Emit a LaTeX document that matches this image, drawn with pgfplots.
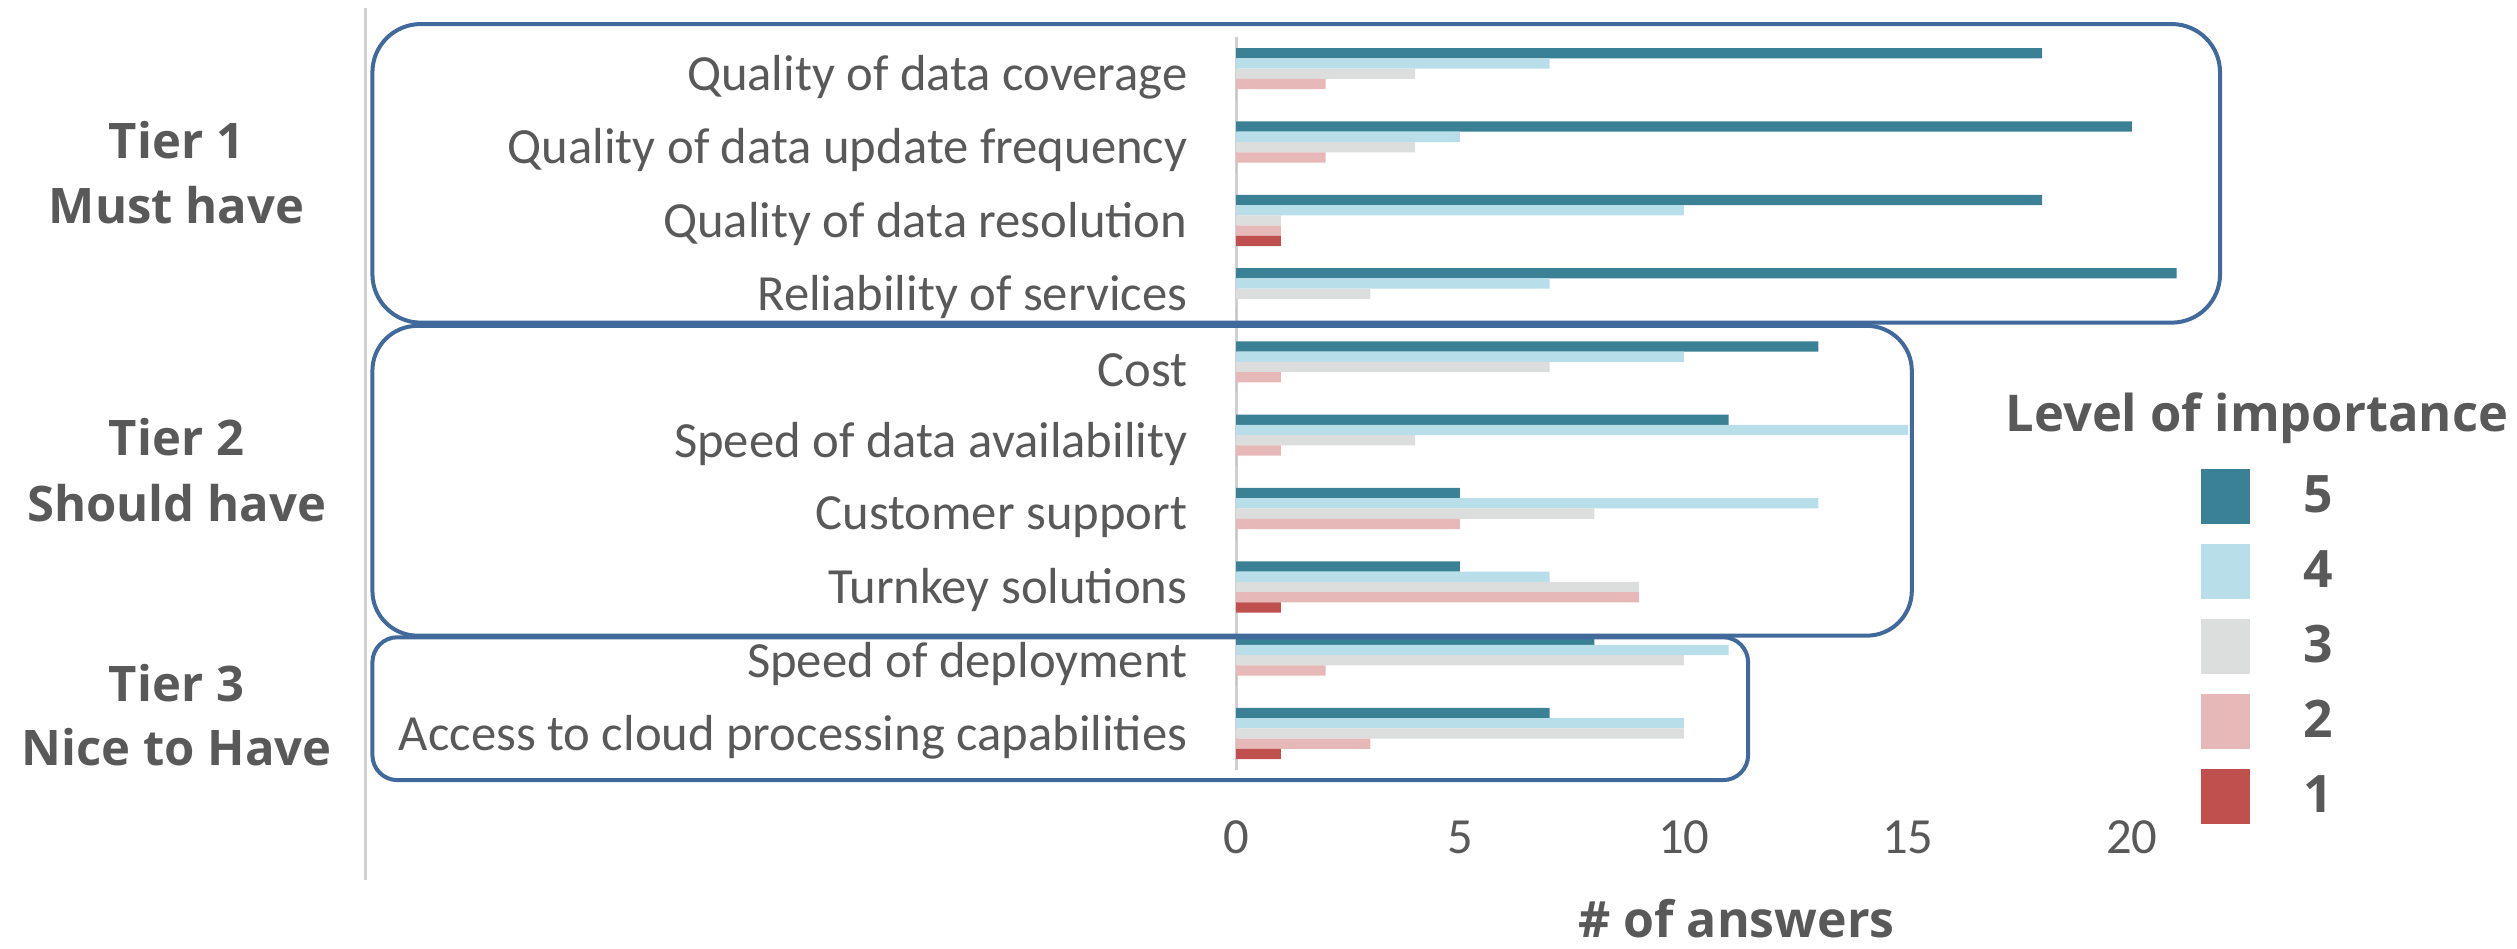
\documentclass[border=0pt]{standalone}
\usepackage{pgfplots}
\pgfplotsset{compat=1.18}
\usepackage{pgfplotstable}
\usepackage{fontspec}
\setmainfont{Carlito}
\newfontfamily\osans{Open Sans}
\definecolor{txt}{HTML}{595959}
\definecolor{c5}{HTML}{3A8195}
\definecolor{c4}{HTML}{B8DFE9}
\definecolor{c3}{HTML}{DCDDDD}
\definecolor{c2}{HTML}{E6B8B8}
\definecolor{c1}{HTML}{C0504D}
\definecolor{boxc}{HTML}{41699B}
\definecolor{gridc}{HTML}{D0D0D0}
\pgfplotsset{sqlegend/.style={legend image code/.code={\fill[##1] (0pt,-8.2pt) rectangle (14.7pt,8.2pt);}}}

\pgfplotstableread{
y v5 v4 v3 v2 v1
9 18 7 4 2 0
8 20 5 4 2 0
7 18 10 1 1 1
6 21 7 3 0 0
5 13 10 7 1 0
4 11 15 4 1 0
3 5 13 8 5 0
2 5 7 9 9 1
1 8 11 10 2 0
0 7 10 10 3 1
}\data

\begin{document}
\begin{tikzpicture}[x=0.48157pt,y=0.48157pt]
\begin{axis}[
 at={(370.81pt,53.55pt)}, anchor=south west,
 scale only axis, width=295.6pt, height=219.9pt,
 xmin=0, xmax=22, ymin=-0.5, ymax=9.5,
 axis x line*=bottom, axis y line*=left,
 x axis line style={draw=none},
 y axis line style={draw=gridc, line width=0.9pt},
 tick style={draw=none},
 xtick={0,5,10,15,20},
 ytick={0,...,9},
 yticklabels={Access to cloud processing capabilities, Speed of deployment, Turnkey solutions, Customer support, Speed of data availability, Cost, Reliability of services, Quality of data resolution, Quality of data update frequency, Quality of data coverage},
 tick label style={font=\fontsize{15.2}{16}\selectfont, text=txt},
 /pgf/number format/assume math mode=true,
 xticklabel style={anchor=north, inner sep=0pt, yshift=-15pt},
 yticklabel style={anchor=east, inner sep=0pt, xshift=-14.4pt, yshift=-1pt},
 xlabel={\# of answers},
 xlabel style={at={(axis description cs:0.508,-0.228)}, anchor=base, font=\osans\bfseries\fontsize{15}{18}\selectfont, text=txt},
 legend style={at={(axis description cs:0.979,0.4112)}, anchor=north west, draw=none, fill=none, inner sep=0pt,
   font=\osans\bfseries\fontsize{15.5}{18}\selectfont, text=txt,
   nodes={inner sep=0pt}, row sep=6.1pt, column sep=15.9pt},
 legend cell align=left,
 clip=false,
]
\addplot[xbar, bar width=0.14, bar shift=0.28, fill=c5, draw=none, sqlegend] table[x=v5, y=y] {\data};
\addplot[xbar, bar width=0.14, bar shift=0.14, fill=c4, draw=none, sqlegend] table[x=v4, y=y] {\data};
\addplot[xbar, bar width=0.14, bar shift=0, fill=c3, draw=none, sqlegend] table[x=v3, y=y] {\data};
\addplot[xbar, bar width=0.14, bar shift=-0.14, fill=c2, draw=none, sqlegend] table[x=v2, y=y] {\data};
\addplot[xbar, bar width=0.14, bar shift=-0.28, fill=c1, draw=none, sqlegend] table[x=v1, y=y] {\data};
\legend{5,4,3,2,1}
\end{axis}
\draw[gridc, line width=0.9pt] (228,43) -- (228,586);
\draw[boxc, line width=1.2pt, rounded corners=14.5pt] (232,390) rectangle (1383,576);
\draw[boxc, line width=1.2pt, rounded corners=13.5pt] (232,195) rectangle (1191,388);
\draw[boxc, line width=1.2pt, rounded corners=7.5pt] (232,105) rectangle (1089,194);
\begin{scope}[every node/.style={anchor=base, text=txt, font=\osans\bfseries\fontsize{14.7}{18}\selectfont, inner sep=0pt}]
\node at (110,492) {Tier 1};
\node at (110,452) {Must have};
\node at (110,307) {Tier 2};
\node at (110,266) {Should have};
\node at (110,154) {Tier 3};
\node at (110,114) {Nice to Have};
\node[font=\osans\bfseries\fontsize{15.2}{18}\selectfont] at (1406,322) {Level of importance};
\end{scope}
\pgfresetboundingbox
\path[use as bounding box] (0,0) rectangle (1568,591);
\end{tikzpicture}
\end{document}
